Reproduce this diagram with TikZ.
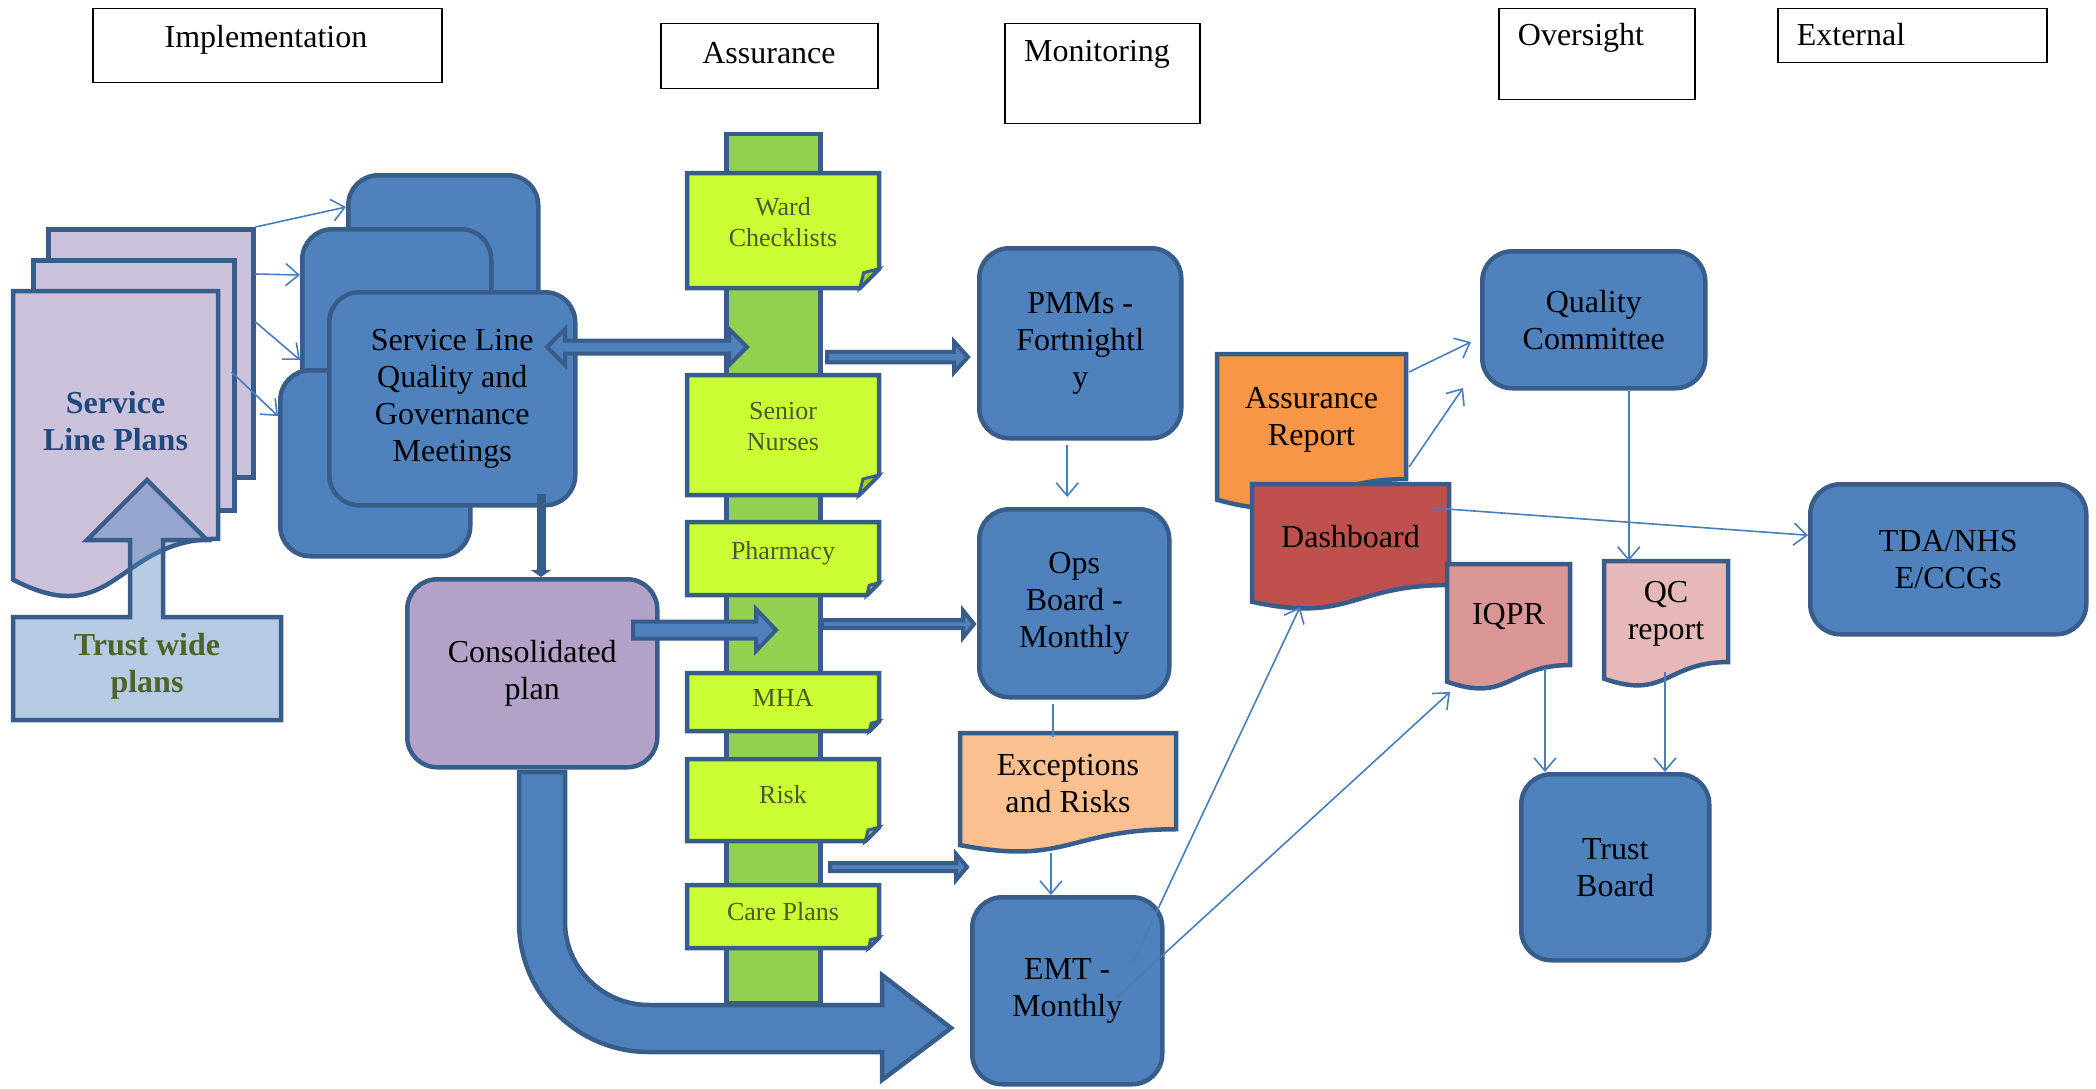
\documentclass[tikz,border=0pt]{standalone}
\usepackage{fontspec}
\setmainfont{Liberation Serif}
\usetikzlibrary{arrows.meta,calc}

\definecolor{wblue}{HTML}{4F81BD}
\definecolor{wline}{HTML}{385D8A}
\definecolor{cFlow}{HTML}{4A7EBB}
\definecolor{cLav}{HTML}{CCC1DA}
\definecolor{cCons}{HTML}{B3A2C7}
\definecolor{cBar}{HTML}{92D050}
\definecolor{cLime}{HTML}{CCFF33}
\definecolor{cLimeDk}{HTML}{A3CC29}
\definecolor{cArep}{HTML}{F79646}
\definecolor{cDboard}{HTML}{C0504D}
\definecolor{cIqpr}{HTML}{D99694}
\definecolor{cQcrep}{HTML}{E6B9B8}
\definecolor{cExc}{HTML}{FAC090}
\definecolor{cSlp}{HTML}{1F497D}
\definecolor{cTrust}{HTML}{4F6228}
\definecolor{cNote}{HTML}{4A5A2E}

\newcommand\bxfont{\fontsize{32}{37}\selectfont}
\newcommand\ntfont{\fontsize{26}{31}\selectfont}

% document shape: name, x, y, w, h, fill, node options, text
\newcommand\docshape[8]{%
  \filldraw[shapeline, fill=#6] (#2,#3) -- (#2+#4,#3) -- (#2+#4,#3+0.802*#5)
    .. controls (#2+0.5*#4,#3+0.802*#5) and (#2+0.5*#4,#3+1.107*#5) .. (#2,#3+0.934*#5) -- cycle;
  \coordinate (#1-top) at (#2+0.5*#4,#3);
  \node[doctext,#7] (#1) at (#2+0.5*#4,#3+0.42*#5) {#8};}

% folded note: x, y, w, h
\newcommand\notebox[4]{%
  \pgfmathsetmacro\fld{0.1667*min(#3,#4)}%
  \filldraw[shapeline, fill=cLime] (#1,#2) -- (#1+#3,#2) -- (#1+#3,#2+#4-\fld)
    -- (#1+#3-\fld,#2+#4) -- (#1,#2+#4) -- cycle;
  \filldraw[shapeline, line width=3pt, fill=cLimeDk] (#1+#3-\fld,#2+#4)
    -- (#1+#3-0.8*\fld,#2+#4-0.8*\fld) -- (#1+#3,#2+#4-\fld) -- cycle;}

% block arrow: start, end, shaft half, head half, head length
\newcommand\blockarrow[5]{%
  \path[blockarr] let \p1=(#1), \p2=(#2) in
    (\x1,\y1+#3) -- (\x2-#5,\y1+#3) -- (\x2-#5,\y1+#4) -- (\x2,\y1)
    -- (\x2-#5,\y1-#4) -- (\x2-#5,\y1-#3) -- (\x1,\y1-#3) -- cycle;}

\begin{document}
\begin{tikzpicture}[x=1pt, y=-1pt,
  shapeline/.style={draw=wline, line width=4.5pt},
  box/.style={shapeline, fill=wblue, rounded corners=30pt, anchor=north west,
    inner sep=0pt, align=center, font=\bxfont},
  page/.style={shapeline, fill=cLav, anchor=north west, inner sep=0pt},
  hbox/.style={draw=black, line width=1.5pt, fill=white, anchor=north west, inner sep=0pt},
  htext/.style={font=\bxfont, inner sep=0pt},
  doctext/.style={font=\bxfont, align=center, inner sep=0pt},
  notetext/.style={font=\ntfont, text=cNote, align=center, inner sep=0pt},
  blockarr/.style={fill=wblue, draw=wline, line width=4pt},
  flow/.style={draw=cFlow, line width=1.6pt, -{Straight Barb[length=13pt,width=22pt]}},
  flowplain/.style={draw=cFlow, line width=1.6pt}]

  \useasboundingbox (0,0) rectangle (2096,1089);
  \fill[white] (0,0) rectangle (2096,1089);

  % column headings
  \node[hbox, minimum width=349, minimum height=74] (hImpl) at (92,8) {};
  \node[hbox, minimum width=217, minimum height=65] (hAssur) at (660,23) {};
  \node[hbox, minimum width=195, minimum height=100] (hMon) at (1004,23) {};
  \node[hbox, minimum width=196, minimum height=91] (hOver) at (1498,8) {};
  \node[hbox, minimum width=269, minimum height=54] (hExt) at (1777,8) {};
  \node[htext] (tImpl) at (266,40) {Implementation};
  \node[htext] (tAssur) at (769,53) {Assurance};
  \node[htext] (tMon) at (1097,54) {Monitoring};
  \node[htext] (tOver) at (1581,38) {Oversight};
  \node[htext] (tExt) at (1851,35) {External};

  % service line plans
  \node[page, minimum width=205, minimum height=248] (plB) at (46,227) {};
  \node[page, minimum width=201, minimum height=250] (plM) at (31,258) {};
  \docshape{slp}{13}{291}{205}{309}{cLav}{text=cSlp, font=\bxfont\bfseries}{Service\\Line Plans}

  \filldraw[draw=wline, line width=4.5pt, fill=wblue, fill opacity=0.42]
    (13,617) -- (130,617) -- (130,540) -- (87,540) -- (147,480) -- (207,540)
    -- (163,540) -- (163,617) -- (281,617) -- (281,720) -- (13,720) -- cycle;
  \node[doctext, text=cTrust, font=\bxfont\bfseries] (trust) at (147,666) {Trust wide\\plans};

  % meetings
  \node[box, minimum width=190, minimum height=196] (mtgA) at (346,173) {};
  \node[box, minimum width=189, minimum height=245] (mtgB) at (300,227) {};
  \node[box, minimum width=190, minimum height=186] (mtgC) at (278,368) {};
  \node[box, minimum width=246, minimum height=213] (mtgD) at (327,290)
    {Service Line\\Quality and\\Governance\\Meetings};

  % assurance column
  \node[shapeline, fill=cBar, anchor=north west, inner sep=0pt,
    minimum width=94, minimum height=869] (bar) at (724,132) {};
  \foreach \ny/\nh/\ntext [count=\i] in {173/115/{Ward\\Checklists},
      375/120/{Senior\\Nurses}, 522/73/Pharmacy, 673/58/MHA, 759/82/Risk,
      885/63/{Care Plans}} {
    \notebox{687}{\ny}{192}{\nh}
    \node[notetext] (note\i) at (783,\ny+0.43*\nh) {\ntext};
  }

  \coordinate (slqL) at (547,347);
  \coordinate (slqR) at (747,347);
  \path[blockarr] let \p1=(slqL), \p2=(slqR) in
    (\x1,\y1) -- (\x1+18pt,\y1+18pt) -- (\x1+18pt,\y1+6.5pt) -- (\x2-18pt,\y1+6.5pt)
    -- (\x2-18pt,\y1+18pt) -- (\x2,\y1) -- (\x2-18pt,\y1-18pt) -- (\x2-18pt,\y1-6.5pt)
    -- (\x1+18pt,\y1-6.5pt) -- (\x1+18pt,\y1-18pt) -- cycle;

  % monitoring
  \node[box, minimum width=202, minimum height=190] (pmm) at (977,246) {PMMs -\\Fortnightl\\y};
  \node[box, minimum width=190, minimum height=188] (ops) at (977,507) {Ops\\Board -\\Monthly};
  \docshape{exc}{960}{733}{216}{120}{cExc}{}{Exceptions\\and Risks}
  \node[box, minimum width=190, minimum height=187] (emt) at (970,895) {EMT -\\Monthly};

  \coordinate (barPmmS) at (827,357);
  \coordinate (barPmmE) at (968,357);
  \coordinate (consBarS) at (633,630);
  \coordinate (consBarE) at (776,630);
  \coordinate (barOpsS) at (822,624);
  \coordinate (barOpsE) at (974,624);
  \coordinate (riskS) at (830,867);
  \coordinate (riskE) at (967,867);
  \blockarrow{barPmmS}{barPmmE}{5.25pt}{15.5pt}{14pt}
  \blockarrow{barOpsS}{barOpsE}{4pt}{13.5pt}{11pt}
  \blockarrow{riskS}{riskE}{4pt}{13pt}{11pt}

  % consolidated plan and its route to EMT
  \filldraw[blockarr, line width=4.5pt] (519,772) -- (519,922)
    .. controls (519,994) and (577,1052) .. (649,1052) -- (882,1052) -- (882,1080)
    -- (951,1028) -- (882,975) -- (882,1005) -- (649,1005)
    .. controls (603,1005) and (565,968) .. (565,922) -- (565,772) -- cycle;
  \node[box, fill=cCons, minimum width=250, minimum height=188] (cons) at (405,577)
    {Consolidated\\plan};
  \blockarrow{consBarS}{consBarE}{8.5pt}{21pt}{20pt}

  \coordinate (mtgDrop) at (541,494);
  \draw[draw=wline, line width=9pt, -{Triangle[length=7pt,width=20pt]}]
    (mtgDrop) -- (mtgDrop |- cons.north);

  % reports, oversight and external
  \docshape{arep}{1217}{354}{189}{156}{cArep}{}{Assurance\\Report}
  \docshape{dboard}{1252}{484}{197}{126}{cDboard}{}{Dashboard}
  \docshape{iqpr}{1447}{564}{123}{126}{cIqpr}{}{IQPR}
  \docshape{qcr}{1604}{561}{124}{126}{cQcrep}{}{QC\\report}
  \node[box, minimum width=223, minimum height=137] (qc) at (1480,249) {Quality\\Committee};
  \node[box, minimum width=276, minimum height=150] (tda) at (1808,482) {TDA/NHS\\E/CCGs};
  \node[box, minimum width=188, minimum height=186] (tboard) at (1519,772) {Trust\\Board};

  % connectors
  \draw[flow] (plB.north east) -- ([yshift=-34pt]mtgA.north west);
  \draw[flow] ([yshift=-47pt]plB.north east) -- ([yshift=-48pt]mtgB.north west);
  \draw[flow] ([yshift=-95pt]plB.north east) -- ([yshift=-133pt]mtgB.north west);
  \draw[flow] ([xshift=-5pt,yshift=-114pt]plM.north east) -- ([yshift=-48pt]mtgC.north west);

  \draw[flow] ([xshift=-13pt,yshift=-4pt]pmm.south) -- ([xshift=-7pt,yshift=10pt]ops.north);
  \draw[flowplain] ([xshift=-21pt,yshift=-4pt]ops.south) -- ([xshift=-21pt,yshift=-4pt]ops.south |- exc-top);
  \coordinate (excBot) at (1051,853);
  \draw[flow] (excBot) -- (excBot |- emt.north);

  \coordinate (emtDash) at (1133,962);
  \coordinate (dashFoot) at (1300,607);
  \coordinate (emtIq) at (1117,997);
  \coordinate (iqFoot) at (1450,692);
  \draw[flow] (emtDash) -- (dashFoot);
  \draw[flow] (emtIq) -- (iqFoot);

  \coordinate (arTop) at (1409,372);
  \coordinate (qcA) at (1471,342);
  \coordinate (arMid) at (1409,467);
  \coordinate (qcB) at (1463,388);
  \draw[flow] (arTop) -- (qcA);
  \draw[flow] (arMid) -- (qcB);

  \coordinate (dashEnd) at (1433,508);
  \draw[flow] (dashEnd) -- ([yshift=24pt]tda.west);
  \draw[flow] ([xshift=35pt]qc.south) -- ([xshift=35pt]qc.south |- qcr-top);

  \coordinate (iqBot) at (1545,668);
  \coordinate (qcrBot) at (1665,672);
  \draw[flow] (iqBot) -- (iqBot |- tboard.north);
  \draw[flow] (qcrBot) -- (qcrBot |- tboard.north);
\end{tikzpicture}
\end{document}
